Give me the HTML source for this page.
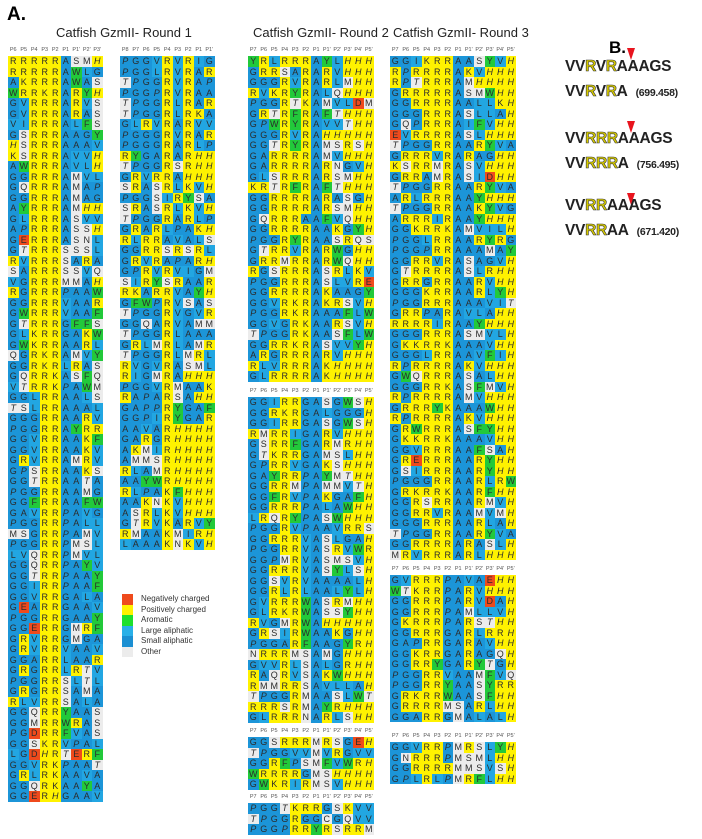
<!DOCTYPE html>
<html><head><meta charset="utf-8">
<style>
html,body{margin:0;padding:0;background:#fff;}
body{width:702px;height:839px;position:relative;overflow:hidden;font-family:"Liberation Sans",Arial,sans-serif;}
.abs{position:absolute;}
.cell{position:absolute;width:10.5px;height:10.5px;font-size:9px;line-height:10.5px;text-align:center;color:#2b2b2b;}
.it{font-style:italic;}
.hdr{position:absolute;font-size:5.5px;color:#555;text-align:center;width:10.5px;}
.title{position:absolute;font-size:13px;color:#222;white-space:nowrap;}
.lg{position:absolute;font-size:8px;color:#333;white-space:nowrap;}
.sw{position:absolute;width:11px;height:10.5px;}
.bseq{position:absolute;font-size:15.5px;font-weight:bold;color:#222;white-space:nowrap;letter-spacing:-0.3px;}
.bseq .r{color:#d8cc00;-webkit-text-stroke:0.6px #333;}
.mass{font-size:10.5px;margin-left:8px;}
.tri{position:absolute;width:0;height:0;border-left:4px solid transparent;border-right:4px solid transparent;border-top:12px solid #e8141e;}
</style></head><body>
<div class="abs" style="left:7px;top:4px;font-size:19px;font-weight:bold;">A.</div>
<div class="abs" style="left:609px;top:38px;font-size:17px;font-weight:bold;">B.</div>
<div class="title" style="left:56px;top:25px;">Catfish GzmII- Round 1</div>
<div class="title" style="left:253px;top:25px;">Catfish GzmII- Round 2</div>
<div class="title" style="left:393px;top:25px;">Catfish GzmII- Round 3</div>

<div id="grids"></div>

<div>
<div class="sw" style="left:122px;top:594px;background:#ef4a1c"></div>
<div class="lg" style="left:141px;top:594px">Negatively charged</div>
<div class="sw" style="left:122px;top:604.5px;background:#fff200"></div>
<div class="lg" style="left:141px;top:605px">Positively charged</div>
<div class="sw" style="left:122px;top:615px;background:#1ee02e"></div>
<div class="lg" style="left:141px;top:615px">Aromatic</div>
<div class="sw" style="left:122px;top:625.5px;background:#29b0e8"></div>
<div class="lg" style="left:141px;top:626px">Large aliphatic</div>
<div class="sw" style="left:122px;top:636px;background:#1b8fd2"></div>
<div class="lg" style="left:141px;top:636px">Small aliphatic</div>
<div class="sw" style="left:122px;top:646.5px;background:#ececec"></div>
<div class="lg" style="left:141px;top:647px">Other</div>
</div>

<div>
<div class="tri" style="left:627px;top:48px"></div>
<div class="bseq" style="left:565px;top:58px">VV<span class="r">R</span>V<span class="r">R</span>AAAGS</div>
<div class="bseq" style="left:565px;top:83px">VV<span class="r">R</span>V<span class="r">R</span>A<span class="mass">(699.458)</span></div>
<div class="tri" style="left:627px;top:121px"></div>
<div class="bseq" style="left:565px;top:130px">VV<span class="r">RRR</span>AAAGS</div>
<div class="bseq" style="left:565px;top:155px">VV<span class="r">RRR</span>A<span class="mass">(756.495)</span></div>
<div class="tri" style="left:627px;top:193px"></div>
<div class="bseq" style="left:565px;top:197px">VV<span class="r">RR</span>AAAGS</div>
<div class="bseq" style="left:565px;top:222px">VV<span class="r">RR</span>AA<span class="mass">(671.420)</span></div>
</div>

<script>
const r1a = ["RRRRRASMH","RRRRRAWLG","AKRRRAWAS","WRRKRARYH","GVRRRARVS","GVRRRARAS","VIRRRALFS","GSRRRAAGY","HSRRRAAAV","KSRRRAVVH","AWRRRAVLH","GGRRRAMVL","GQRRRAMAP","GGRRRAMAG","AYRRRAMHH","GLRRRASVV","APRRRASSH","GERRRASNL","GTRRRSSSL","RVRRRSARA","SARRRSSVQ","VGRRRMMAH","RGRRRPAAW","GGRRRVAAR","GWRRRVAAF","GTRRRGFFS","GLKRRGAKW","GWKRRAARL","QGRKRAMVY","GGRKRLRAS","GQRRKASFQ","VTRRKPAWM","GGLRRAALS","TSLRRAAAL","GGGRRAARV","PGGRRAYRR","GGVRRAAKF","GGVRRAAKV","GRVRRAMRV","GPSRRAAKS","GGTRRAATA","PGGRRAAMG","GGFRRAAFW","GAVRRPAVG","PGGRRPALL","MSGRRPAMV","PGGRRPMSL","LVQRRPMVL","GGQRRPAYV","GGTRRPAAY","GGIRRPAAF","GGVRRGALA","GEARRGAAV","PGGRRGAAY","GGERRGMRF","GRVRRGMGA","GRVRRVAAV","GGARRLAAR","GRGRRLRTV","PGGRRSLTL","GRGRRSAMA","RLVRRSALA","GGQRRYAAS","GGMRRWRAS","PGDRRFVAS","GGSKRVPAL","LGDHRTERF","GGVRKPAAT","GRLRKAAVA","GGQRKAAYA","GGERHGAAV"];
const r1b = ["PGGVRVRIG","PGGLRVRAR","TPGGRVRAP","PGGPRVRAA","TPGGRLRAR","TPGGRLRKA","GLRVRARVV","PGGGRVRAR","PGGGRARLP","RYGARARHH","TPGGRSRHH","GRVRRAHHH","SRASRLKVH","PGGSIRYSA","SRASRLKVH","TPGGRARLP","GRARLPAKH","RLRRAVALS","GGRRSRSRL","GRVRAPARH","GPRVRVIGM","SIRYSRAAR","RKARRVAYH","GFWPRVSAS","TPGGRVGVR","GGQARVAMM","TPGGRLAAA","GRLMRLAMR","TPGGRLMRL","RVGVRASML","RIGMRAHHH","PGGVRMAAK","RAPARSAHH","GAPPRYGAF","GGPIRYGAR","AAVARHHHH","GARGRHHHH","AKMIRHHHH","AMMSRHHHH","RLAMRHHHH","AAYWRHHHH","RLPAKFHHH","AAKNKVHHH","ASRLKVHHH","GTRVKARVY","RMAAKMIRH","LAAAKNKVH"];
const r2a = ["YRLRRRAYLHHH","GRRSARARVHHH","GGGRVRARLMHH","RVKRYRALQHHH","PGGRTKAMVLDM","GRTRFRAFTHHH","GPWRYRAVVTHH","GGGRVRAHHHHH","GGTRYRAMSRSH","GARRRRAMVHHH","GARRRRARNGVH","GLSRRRARSMHH","KRTRFRAFTHHH","GGRRRRARASGH","GGRRRRARSMHH","GQRRRAAFVQHH","GGRRRRAAKGYH","PGGRYRAASRQS","GTRRVRARWGHH","GRRMRRARWQHH","RGSRRRASRLKV","PGGRRRASLVRE","GGRRRRAKAAGY","GGVRKRAKRSVH","PGGRKRAAAFLW","GGVGRKAARSVH","TPGGRKAASFLW","GGRRKRASVVYH","ARGRRRARVHHH","RLVRRRAKHHHH","GLRRRRAKHHHH"];
const r2b = ["GGIRRGASGWSH","GGRKRGALGGGH","GGIRRGASGWSH","RMRRIGARVHHH","GSRRFGARMRHH","GTKRRGAMSLHH","GPRRVGAKSHHH","GAYRRPAYMTHH","GGRRMPAMMVTH","GGFRVPAKGAFH","GGRRRPALAWHH","LRQRYPASWHHH","PGGRVPAAVRRS","GGRRRVASLGAH","PGGRRVASRVWR","GGPMRVASMSVH","GGRRRVASYLSH","GGSVRVAAAALH","GGRLRLAALYLH","GVRRRWASRMHH","GLRKRWASSYHH","RVGMRWAHHHHH","GRSIRWAAKGHH","PGGARFAAGYRH","NRRRMSAMGHHH","GVVRLSALGRHH","RAQRVSAKWHHH","RMMRRSAVLLAH","TPGGRMAASLWT","RRRSRMAYRHHH","GLRRRNARLSHH"];
const r2c = ["GGSRRRMRSGEH","TPGGVVMVRGVV","GGRFPSMFVWRH","WRRRRGMSHHHH","GWKRIRMSVHHH"];
const r2d = ["PGGTKRRGSKVV","TPGGRGGCGQVV","PGGPRRYRSRRM"];
const r3a = ["GGIKRRAASYVH","RPRRRRAKVHHH","RPTRRRAMHHHH","GRRRRRASMWHH","GGRRRRAALLKH","GGGRRRASLLAH","GQPRRRAIFVHH","EVRRRRASLHHH","TPGGRRAARYVA","GRRRVRARAGHH","KSRRMRASVHHH","GRRAMRASIDHH","TPGGRRAARYVA","ARLRRRAAYHHH","TPGGRRAAKYVG","ARRRIRAAYHHH","GGKRRKAMVILH","PGGLRRAARYRG","PGGPRRAAAMAY","GGRRVRASAGVH","GTRRRRASLRHH","GRRGRRAARVHH","GGGKRRAARLYH","PGGRRRAAAVIT","GRRPARAVLAHH","RRRRIRAAYHHH","GGGRRRASMVLH","GKKRRKAAAVHH","GGGLRRAAVFIH","RPRRRRAKVHHH","GWQRRRASALHH","GGGRRKASFMVH","RPRRRRAMVHHH","GRRRYKAAAWHH","RPRRRRAKVHHH","GRWRRRASFYHH","GKKRRKAAAVHH","GGVRRRAAFSAH","GRERRRAARYHH","GSIRRRAARYHH","PGGGRRAARLRW","GRKRRKAARFHH","GGRSRRAARMVH","GGRRVRAAMVMH","GGGRRRAARLAH","TPGGRRAARYVA","GGRRRRARASLH","MRVRRRARLHHH"];
const r3b = ["GVRRRPAVAEHH","WTKRRPARVHHH","GGRRRPARVDAH","GGRRRPAMLLVH","GKRRRPARSTHH","GGRRRGARLRRH","GAPRRGARAVHH","GGKRRGARAGQH","GGRRYGARYTGH","PGGRRVAAMFVQ","PGGRRYAASYRR","GRKRRWAASFHH","GRRRRMSARLHH","GGARRGMALALH"];
const r3c = ["GGVRRPMRSLYH","GNRRRPMSMLHH","GGRRRRMMSVSH","GPLRLPMRFLHH"];
const hdr9a = ["P6","P5","P4","P3","P2","P1","P1'","P2'","P3'"];
const hdr9b = ["P8","P7","P6","P5","P4","P3","P2","P1","P1'"];
const hdr12 = ["P7","P6","P5","P4","P3","P2","P1","P1'","P2'","P3'","P4'","P5'"];

const CW = 10.5, CH = 10.5;
function colorOf(c){
  if("DE".includes(c)) return "#ef4a1c";
  if("RKH".includes(c)) return "#fff200";
  if("FWY".includes(c)) return "#22c93a";
  if("LVI".includes(c)) return "#22a6e2";
  if("GAP".includes(c)) return "#1c95d8";
  return "#ececec";
}
const root = document.getElementById('grids');
function block(rows, hdr, x, y, name){
  const g = document.createElement('div');
  
  
  hdr.forEach((h,i)=>{
    const d = document.createElement('div');
    d.className = 'hdr';
    d.style.left = (x + i*CW) + 'px';
    d.style.top = (y - 9) + 'px';
    d.textContent = h;
    
    
    g.appendChild(d);
  });
  rows.forEach((s,r)=>{
    for(let i=0;i<s.length;i++){
      const c = s[i];
      const d = document.createElement('div');
      d.className = 'cell' + ("PTH".includes(c)?' it':'');
      d.style.left = (x + i*CW) + 'px';
      d.style.top = (y + r*CH) + 'px';
      d.style.background = colorOf(c);
      d.textContent = c;
      
      
      g.appendChild(d);
    }
  });
  root.appendChild(g);
}
block(r1a, hdr9a, 8, 56, 'round1-block-a');
block(r1b, hdr9b, 120, 56, 'round1-block-b');
block(r2a, hdr12, 248, 56, 'round2-block-1');
block(r2b, hdr12, 248, 397, 'round2-block-2');
block(r2c, hdr12, 248, 737, 'round2-block-3');
block(r2d, hdr12, 248, 803, 'round2-block-4');
block(r3a, hdr12, 390, 56, 'round3-block-1');
block(r3b, hdr12, 390, 575, 'round3-block-2');
block(r3c, hdr12, 390, 742, 'round3-block-3');
</script>
</body></html>
